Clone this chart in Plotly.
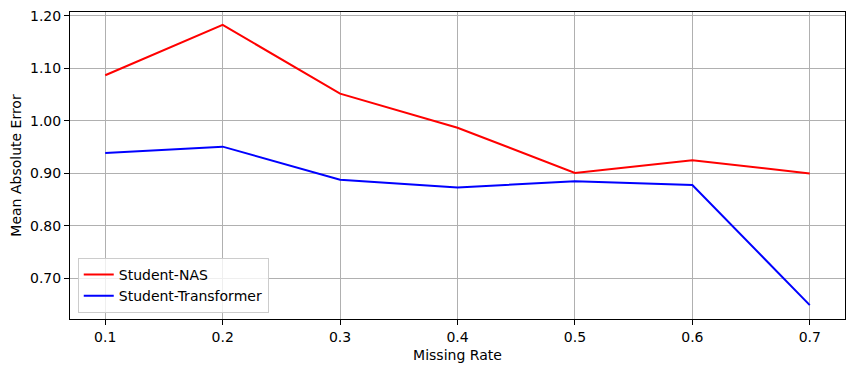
import plotly.graph_objects as go

# missing rate on the x axis
missing_rate = [0.1, 0.2, 0.3, 0.4, 0.5, 0.6, 0.7]

# mean absolute error per model
mae_nas = [1.087, 1.183, 1.052, 0.987, 0.901, 0.925, 0.900]
mae_transformer = [0.939, 0.951, 0.888, 0.873, 0.885, 0.878, 0.649]

y_ticks = [0.70, 0.80, 0.90, 1.00, 1.10, 1.20]

FONT = "DejaVu Sans"
GRID = "#b0b0b0"

# the page body keeps its 8px default margin, so the figure is drawn smaller
# and the margins are shifted to land the axes where the reference has them
BODY_PAD = 8

fig = go.Figure()
fig.add_trace(go.Scatter(
    x=missing_rate, y=mae_nas, mode="lines", name="Student-NAS",
    line=dict(color="red", width=2),
))
fig.add_trace(go.Scatter(
    x=missing_rate, y=mae_transformer, mode="lines", name="Student-Transformer",
    line=dict(color="blue", width=2),
))

axis_common = dict(
    showline=True, linecolor="black", linewidth=1, mirror=True,
    ticks="outside", ticklen=5, tickwidth=1, tickcolor="black",
    showgrid=True, gridcolor=GRID, gridwidth=1, zeroline=False,
    tickfont=dict(size=14, color="black"), automargin=False,
    ticklabeloverflow="allow",
)

fig.update_layout(
    width=855 - BODY_PAD, height=372 - BODY_PAD,
    margin=dict(l=70 - BODY_PAD, r=10, t=12 - BODY_PAD, b=53),
    paper_bgcolor="white", plot_bgcolor="white",
    font=dict(family=FONT, size=14, color="black"),
    xaxis=dict(
        **axis_common, range=[0.07, 0.73], tickvals=missing_rate,
        tickformat=".1f",
        title=dict(text="Missing Rate", font=dict(size=14), standoff=6),
    ),
    yaxis=dict(
        **axis_common, range=[0.6225, 1.2076], tickvals=y_ticks,
        tickformat=".2f",
        title=dict(text="Mean Absolute Error", font=dict(size=14), standoff=6),
    ),
    legend=dict(
        x=0.01, y=0.02, xanchor="left", yanchor="bottom",
        bgcolor="rgba(255,255,255,0.8)", bordercolor="#cccccc", borderwidth=1,
        font=dict(size=14), tracegroupgap=0,
    ),
    showlegend=True,
)

fig.write_html("out.html")
